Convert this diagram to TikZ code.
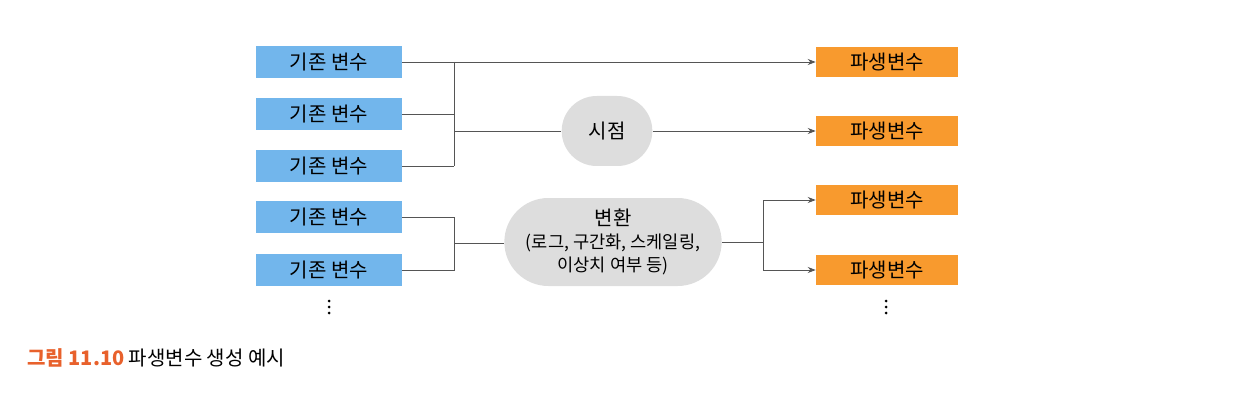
\documentclass[tikz,border=0pt]{standalone}
\usepackage{fontspec}
\setmainfont{Noto Sans CJK KR}
\usetikzlibrary{arrows.meta,shapes.misc}
\definecolor{bluebox}{HTML}{72B6EC}
\definecolor{orangebox}{HTML}{F89A2E}
\definecolor{grayfill}{HTML}{DDDDDD}
\definecolor{linecol}{HTML}{555555}
\definecolor{capred}{HTML}{E8612C}
\tikzset{
  srcbox/.style={fill=bluebox, minimum width=109.5pt, minimum height=24pt, inner sep=0pt, font=\fontsize{15}{17}\selectfont},
  dstbox/.style={fill=orangebox, minimum width=106.5pt, minimum height=23pt, inner sep=0pt, font=\fontsize{15}{17}\selectfont},
  procbox/.style={fill=grayfill, rounded rectangle, inner sep=0pt, font=\fontsize{15}{17}\selectfont, align=center},
  conn/.style={draw=linecol, line width=0.7pt},
  arr/.style={conn, -{Stealth[length=6pt,width=4.5pt]}},
}
\begin{document}
\begin{tikzpicture}[x=0.75pt,y=-0.75pt]
\useasboundingbox (0,0) rectangle (1252,406);
% source boxes
\node[srcbox] (b1) at (329,62) {기존 변수};
\node[srcbox] (b2) at (329,114) {기존 변수};
\node[srcbox] (b3) at (329,166) {기존 변수};
\node[srcbox] (b4) at (329,217) {기존 변수};
\node[srcbox] (b5) at (329,270) {기존 변수};
% derived boxes
\node[dstbox] (o1) at (887,62) {파생변수};
\node[dstbox] (o2) at (887,131) {파생변수};
\node[dstbox] (o3) at (887,200) {파생변수};
\node[dstbox] (o4) at (887,270) {파생변수};
% process nodes
\node[procbox, minimum width=68pt, minimum height=52.5pt] (s) at (607,131) {시점};
\node[procbox, minimum width=163pt, minimum height=66pt] (t) at (613,242) {변환\\{\fontsize{13.2}{17}\selectfont (로그, 구간화, 스케일링,}\\{\fontsize{13.2}{17}\selectfont 이상치 여부 등)}};
% junction coordinates
\coordinate (j) at (454,0);
\coordinate (k) at (763,0);
\coordinate (m) at (454,243);
% top group
\draw[arr] (b1.east) -- (o1.west);
\draw[conn] (b2.east) -- (b2.east -| j);
\draw[conn] (b3.east) -- (b3.east -| j);
\draw[conn] (b1.east -| j) -- (b3.east -| j);
\draw[conn] (s.west -| j) -- (s.west);
\draw[arr] (s.east) -- (o2.west);
% bottom group
\draw[conn] (b4.east) -- (b4.east -| j) -- (b5.east -| j) -- (b5.east);
\draw[conn] (m) -- (m -| t.west);
\draw[conn] (t.east) -- (t.east -| k);
\draw[arr] (o3.west -| k) -- (o3.west);
\draw[arr] (o4.west -| k) -- (o4.west);
\draw[conn] (o3.west -| k) -- (o4.west -| k);
% dots
\foreach \yy in {301,307,313} {
  \fill (329,\yy) circle (1.5);
  \fill (886,\yy) circle (1.5);
}
% caption
\node[anchor=west, inner sep=0pt, font=\fontsize{15}{17}\selectfont] (cap) at (27,358) {\textcolor{capred}{\bfseries 그림 11.10}\ 파생변수 생성 예시};
\end{tikzpicture}
\end{document}
